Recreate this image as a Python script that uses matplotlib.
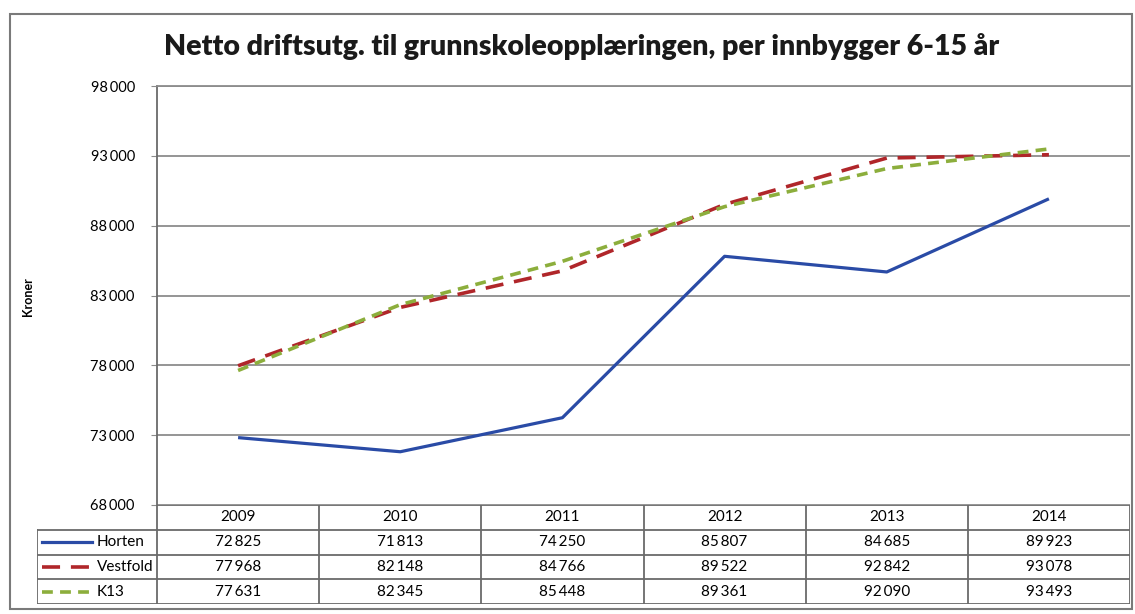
import matplotlib
matplotlib.use('Agg')
import matplotlib.pyplot as plt
from matplotlib.patches import Rectangle

plt.rcParams['font.family'] = ['Lato', 'DejaVu Sans']

# ── Data ───────────────────────────────────────────────────────
years    = ['2009', '2010', '2011', '2012', '2013', '2014']
horten   = [72825, 71813, 74250, 85807, 84685, 89923]
vestfold = [77968, 82148, 84766, 89522, 92842, 93078]
k13      = [77631, 82345, 85448, 89361, 92090, 93493]
y_ticks  = [68000, 73000, 78000, 83000, 88000, 93000, 98000]

series = [
    ('Horten',   horten,   dict(color='#2a4ba6', lw=2.3, ls='-')),
    ('Vestfold', vestfold, dict(color='#b0262a', lw=2.6, ls=(0, (5, 3)))),
    ('K13',      k13,      dict(color='#8cae3c', lw=2.6, ls=(0, (3, 2)))),
]

def fmt(v):
    # Norwegian style thousands separator
    return f'{v:,}'.replace(',', '\u2009')

W, H = 1135, 614
fig = plt.figure(figsize=(W / 100, H / 100), dpi=100)

# outer chart border
fig.patches.append(Rectangle((10 / W, 1 - 609 / H), 1122 / W, 595 / H,
                             transform=fig.transFigure, fill=False,
                             edgecolor='#7a7a7a', lw=1.5))

# ── Main plot area ──────────────────────────────────────────────
L, R, TOP, BOT = 157, 1130, 86, 505
ax = fig.add_axes([L / W, 1 - BOT / H, (R - L) / W, (BOT - TOP) / H])
x = list(range(len(years)))
for name, vals, st in series:
    ax.plot(x, vals, **st, solid_capstyle='butt', dash_capstyle='butt')

ax.set_xlim(-0.5, len(years) - 0.5)
ax.set_ylim(68000, 98000)
ax.set_yticks(y_ticks)
ax.set_yticklabels([fmt(v) for v in y_ticks], fontsize=10.5)
ax.set_xticks([])
ax.grid(axis='y', color='#8c8c8c', lw=1.3)
ax.tick_params(axis='y', length=4, color='#8c8c8c', pad=12)
for side in ['right', 'bottom']:
    ax.spines[side].set_visible(False)
ax.spines['top'].set_color('#8c8c8c')
ax.spines['top'].set_linewidth(1.3)
ax.spines['left'].set_color('#6a6a6a')
ax.spines['left'].set_linewidth(1.3)
ax.set_axisbelow(True)

fig.text(28 / W, 1 - 297 / H, 'Kroner', rotation=90, fontsize=9,
         fontweight='bold', ha='center', va='center')
fig.text(582 / W, 1 - 46 / H,
         'Netto driftsutg. til grunnskoleopplæringen, per innbygger 6-15 år',
         fontsize=20.5, fontweight='heavy', ha='center', va='center',
         color='#1a1a1a')

# ── Data table ─────────────────────────────────────────────────
TL, TB = 37, 604
tab = fig.add_axes([TL / W, 1 - TB / H, (R - TL) / W, (TB - BOT) / H])
lab_w = (L - TL) / ((R - L) / len(years))
tab.set_xlim(-0.5 - lab_w, len(years) - 0.5)
tab.set_ylim(0, 4)
tab.axis('off')

edge = dict(color='#6a6a6a', lw=1.3)
# horizontal lines
tab.plot([-0.5, len(years) - 0.5], [4, 4], **edge)
for yy in [3, 2, 1, 0]:
    tab.plot([-0.5 - lab_w, len(years) - 0.5], [yy, yy], **edge)
# vertical lines
tab.plot([-0.5 - lab_w] * 2, [0, 3], **edge)
for xx in range(len(years) + 1):
    tab.plot([xx - 0.5] * 2, [0, 4], **edge)

for i, yr in enumerate(years):
    tab.text(i, 3.5, yr, ha='center', va='center', fontsize=11)

for r, (name, vals, st) in enumerate(series):
    yc = 2.5 - r
    x0 = -0.5 - lab_w + 0.03
    tab.plot([x0, x0 + 0.31], [yc, yc], **st)
    tab.text(x0 + 0.34, yc, name, ha='left', va='center', fontsize=11)
    for i, v in enumerate(vals):
        tab.text(i, yc, fmt(v), ha='center', va='center', fontsize=11)

fig.savefig('out.png', dpi=100)
